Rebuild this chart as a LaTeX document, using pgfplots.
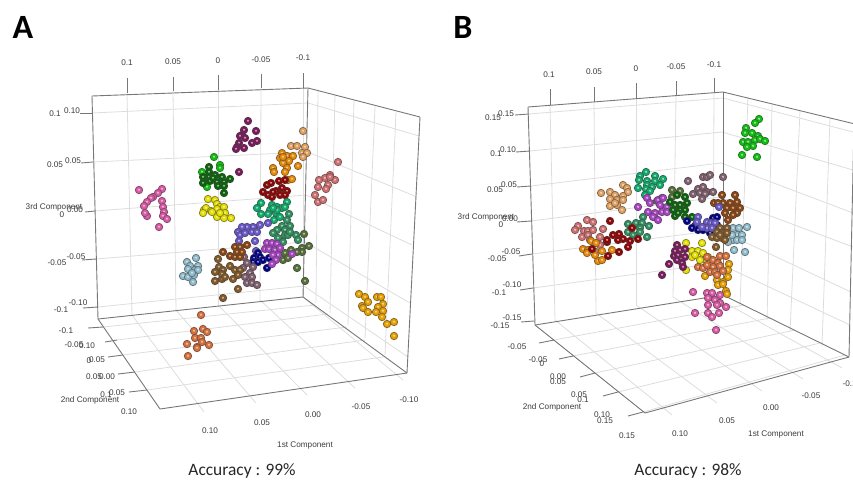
\documentclass[border=0pt]{standalone}
\usepackage{pgfplots}
\usepackage{fontspec}
\pgfplotsset{compat=1.18}
\setmainfont{Liberation Sans}
\newfontfamily\carl{Carlito}
\definecolor{cPink}{HTML}{DB5AA5}
\definecolor{cMag}{HTML}{7B1A5C}
\definecolor{cLime}{HTML}{10C010}
\definecolor{cDkG}{HTML}{0A640A}
\definecolor{cYel}{HTML}{E6E000}
\definecolor{cTan}{HTML}{E0A060}
\definecolor{cOr}{HTML}{E88A08}
\definecolor{cSal}{HTML}{D07070}
\definecolor{cRed}{HTML}{8F0505}
\definecolor{cTeal}{HTML}{10AC6C}
\definecolor{cSea}{HTML}{309060}
\definecolor{cOl}{HTML}{56703A}
\definecolor{cSla}{HTML}{6A58CC}
\definecolor{cPur}{HTML}{A843C4}
\definecolor{cNav}{HTML}{000088}
\definecolor{cSad}{HTML}{8B4513}
\definecolor{cBr}{HTML}{825A2A}
\definecolor{cMau}{HTML}{80606F}
\definecolor{cBlu}{HTML}{90BCCC}
\definecolor{cAmb}{HTML}{E8A000}
\definecolor{cCor}{HTML}{D8703C}
\definecolor{gl}{HTML}{DDDDDD}
\definecolor{ax}{HTML}{777777}
\definecolor{tx}{HTML}{3C3C3C}
\pgfdeclareplotmark{ball}{%
  \pgfpathcircle{\pgfpointorigin}{\pgfplotmarksize}\pgfusepathqfillstroke
  \pgfscope
  \pgfsetfillcolor{white}\pgfsetfillopacity{0.6}%
  \pgfpathcircle{\pgfpoint{0pt}{0.2pt}}{0.32\pgfplotmarksize}\pgfusepathqfill
  \endpgfscope
}
\newcommand\C[2]{\addplot[only marks,mark=ball,mark size=3.7pt,
  mark options={fill=#1,draw=#1!50!black!85,line width=0.8pt}] coordinates {#2};}
\newcommand\G[4]{\addplot[gl,line width=0.8pt] coordinates {(#1,#2)(#3,#4)};}
\newcommand\A[4]{\addplot[ax,line width=0.9pt] coordinates {(#1,#2)(#3,#4)};}
\newcommand\Lb[3]{\node[text=tx,font=\fontsize{8.2}{9}\selectfont,inner sep=0pt] at (axis cs:#1,#2) {#3};}
\begin{document}
\begin{tikzpicture}
\path[use as bounding box] (0,0) rectangle (853pt,480pt);
\clip (0,0) rectangle (853pt,480pt);
\begin{axis}[at={(0,0)},anchor=south west,scale only axis,width=853pt,height=480pt,
  xmin=0,xmax=853,ymin=0,ymax=480,y dir=reverse,hide axis,clip=false]
% ---------- panel A grid
\G{127}{93}{132}{315}\G{173}{91}{176}{310}\G{218}{90}{218}{305}\G{261}{88}{260}{300}\G{303}{88}{303}{297}
\G{92}{113}{308}{103}\G{93}{162}{308}{152}\G{95}{211}{306}{195}\G{96}{259}{305}{242}\G{98}{307}{304}{286}
\G{308}{103}{419}{136}\G{308}{152}{417}{197}\G{306}{195}{412}{245}\G{305}{242}{410}{303}\G{304}{286}{408}{357}
\G{318}{91}{316}{303}\G{335}{95}{330}{313}\G{354}{100}{348}{325}\G{375}{107}{365}{338}\G{396}{112}{385}{355}
\G{132}{315}{204}{412}\G{176}{310}{256}{403}\G{218}{305}{307}{395}\G{260}{300}{355}{388}\G{303}{297}{403}{380}
\G{103}{327}{315}{305}\G{117}{340}{328}{314}\G{123}{355}{347}{327}\G{135}{372}{365}{340}\G{147}{390}{383}{357}
% ---------- panel A frame
\A{92}{96}{308}{88}\A{308}{88}{420}{117}\A{92}{96}{98}{319}\A{308}{88}{303}{297}\A{420}{117}{407}{373}
\A{98}{319}{303}{297}\A{303}{297}{407}{373}\A{98}{319}{160}{409}\A{160}{409}{407}{373}
\A{127}{78}{127}{93}\A{173}{77}{173}{91}\A{218}{75}{218}{90}\A{261}{74}{261}{88}\A{303}{73}{303}{88}
\A{80}{113}{92}{113}\A{81}{163}{93}{162}\A{85}{212}{95}{211}\A{82}{260}{96}{259}\A{83}{308}{98}{307}
\A{88}{328}{103}{327}\A{105}{342}{117}{340}\A{108}{357}{123}{355}\A{118}{374}{135}{372}\A{129}{392}{147}{390}
% ---------- panel A points
\C{cPink}{(139,190)(162,189)(158,193)(153,197)(151,198)(147,202)(144,206)(162,201)(163,207)(164,212)(147,216)(145,213)(163,216)(167,219)(159,227)}
\C{cMag}{(248,121)(256,131)(244,130)(242,135)(240,136)(245,138)(239,143)(237,147)(244,148)(252,143)(257,141)(236,149)(239,172)}
\C{cLime}{(214,157)(220,165)(202,172)(207,187)(220,168)}
\C{cDkG}{(209,167)(209,172)(203,177)(209,177)(215,175)(222,177)(230,179)(203,183)(210,181)(217,182)(224,182)(218,186)(224,186)(224,193)(213,178)}
\C{cYel}{(208,199)(215,200)(204,210)(206,208)(217,204)(220,207)(224,207)(217,209)(225,213)(211,211)(203,213)(217,217)(224,218)(231,218)(212,212)(220,213)}
\C{cTan}{(303,131)(291,146)(297,146)(305,147)(302,153)(307,153)(303,157)}
\C{cOr}{(282,153)(287,156)(293,156)(280,158)(289,161)(283,163)(298,166)(287,168)(285,172)(273,168)(274,172)(283,157)(288,180)(292,179)}
\C{cSal}{(338,162)(330,175)(335,180)(325,178)(319,180)(328,185)(318,187)(326,189)(315,195)(318,202)(323,200)(330,177)}
\C{cRed}{(267,185)(271,183)(279,181)(285,180)(263,192)(268,195)(272,197)(276,191)(282,188)(287,191)(273,192)(280,195)(285,195)}
\C{cTeal}{(261,203)(257,208)(261,214)(272,205)(277,207)(282,208)(287,202)(270,210)(276,213)(285,207)(268,214)(274,220)(280,217)(277,210)(273,208)}
\C{cSea}{(289,214)(287,220)(290,226)(282,226)(277,230)(285,230)(273,233)(278,238)(285,235)(288,235)(296,235)(298,240)(283,242)(290,232)}
\C{cOl}{(304,234)(309,246)(302,248)(302,252)(297,252)(291,250)(285,253)(283,260)(288,258)(297,268)(305,281)}
\C{cSla}{(260,225)(253,227)(247,227)(242,227)(238,232)(240,235)(245,233)(252,232)(257,232)(268,223)(239,241)(255,241)(256,251)}
\C{cNav}{(258,253)(254,258)(260,257)(253,262)(258,262)(263,260)(269,258)(267,268)}
\C{cPur}{(267,243)(272,243)(277,244)(265,249)(269,249)(275,250)(280,248)(278,255)(273,255)(292,254)(276,260)(272,264)}
\C{cMau}{(244,257)(247,263)(253,267)(250,273)(245,277)(252,277)(247,283)(252,283)(257,285)(243,268)}
\C{cBr}{(218,259)(219,267)(215,272)(223,270)(230,266)(215,281)(222,279)(222,274)(225,277)(235,270)(240,270)(238,275)(233,279)(238,289)(223,298)}
\C{cSad}{(235,247)(240,247)(247,245)(230,256)(235,257)(240,257)(237,252)(242,252)(223,252)}
\C{cBlu}{(187,262)(190,266)(196,258)(198,266)(188,269)(195,270)(198,270)(183,276)(188,277)(193,282)(194,275)(192,273)}
\C{cAmb}{(359,294)(365,297)(368,302)(362,306)(363,308)(368,312)(377,297)(381,297)(383,304)(378,307)(383,311)(376,312)(382,317)(387,324)(394,322)(394,336)}
\C{cCor}{(201,315)(194,331)(203,329)(207,332)(195,338)(201,338)(202,342)(187,344)(209,345)(197,347)(197,348)(188,356)}
% ---------- panel B grid
\G{550}{105}{555}{320}\G{594}{102}{596}{313}\G{636}{98}{636}{305}\G{676}{96}{673}{297}\G{714}{93}{713}{296}
\G{529}{114}{723}{98}\G{530}{151}{722}{132}\G{531}{186}{721}{163}\G{531}{221}{720}{197}\G{532}{254}{719}{230}\G{533}{288}{718}{263}
\G{723}{98}{853}{132}\G{722}{132}{853}{170}\G{721}{163}{853}{213}\G{720}{197}{853}{247}\G{719}{230}{851}{292}\G{718}{263}{850}{325}
\G{748}{97}{740}{305}\G{772}{105}{767}{320}\G{800}{111}{790}{332}\G{830}{118}{822}{346}
\G{555}{320}{672}{415}\G{596}{313}{717}{403}\G{636}{305}{762}{391}\G{673}{297}{803}{379}\G{713}{296}{842}{368}
\G{554}{340}{744}{305}\G{573}{356}{770}{318}\G{595}{373}{795}{330}\G{618}{392}{820}{343}\G{643}{412}{845}{355}
% ---------- panel B frame
\A{528}{107}{723}{92}\A{723}{92}{855}{124}\A{528}{107}{535}{325}\A{723}{92}{723}{295}\A{854}{123}{849}{357}
\A{535}{325}{723}{295}\A{723}{295}{849}{357}\A{535}{325}{645}{413}\A{645}{413}{849}{357}
\A{550}{89}{550}{105}\A{594}{87}{594}{102}\A{636}{83}{636}{98}\A{676}{81}{676}{96}\A{714}{78}{714}{93}
\A{515}{115}{529}{114}\A{516}{152}{530}{151}\A{517}{187}{531}{186}\A{517}{222}{531}{221}\A{519}{256}{532}{254}\A{520}{290}{533}{288}\A{521}{322}{534}{321}
\A{539}{343}{554}{340}\A{559}{359}{573}{356}\A{580}{377}{595}{373}\A{603}{396}{618}{392}\A{628}{416}{643}{412}
% ---------- panel B points
\C{cLime}{(759,119)(755,123)(746,128)(745,133)(752,133)(758,136)(743,142)(748,142)(755,140)(760,139)(765,141)(753,146)(747,147)(742,155)(757,157)}
\C{cTeal}{(646,172)(640,176)(655,176)(639,180)(647,181)(655,181)(663,179)(647,185)(652,187)(638,188)(646,189)(650,191)(660,185)(645,195)}
\C{cTan}{(623,185)(627,188)(628,192)(601,193)(610,192)(615,195)(623,196)(610,199)(617,200)(623,200)(610,206)(617,205)(615,203)(622,210)}
\C{cMau}{(688,181)(703,177)(707,177)(710,175)(723,177)(698,189)(703,187)(707,192)(693,194)(700,193)(705,194)(702,199)(713,192)}
\C{cOl}{(672,190)(680,191)(662,198)(657,201)(672,197)}
\C{cPur}{(638,207)(647,198)(650,203)(658,200)(663,198)(660,205)(667,207)(648,212)(655,213)(662,212)(653,217)(658,220)(667,212)}
\C{cDkG}{(677,195)(685,197)(670,202)(675,205)(680,205)(687,203)(673,210)(680,210)(685,210)(692,217)(675,216)(685,217)(678,213)}
\C{cSad}{(722,195)(735,195)(714,203)(723,203)(730,203)(737,202)(718,203)(727,208)(733,208)(740,208)(725,213)(737,213)(733,215)(728,220)}
\C{cNav}{(687,221)(695,226)(692,228)(698,230)(707,223)(713,218)(717,217)(703,230)(710,233)(715,232)(717,225)}
\C{cSla}{(698,217)(697,222)(707,222)(711,223)(715,223)(707,228)(712,228)(702,227)(719,207)}
\C{cBlu}{(733,228)(739,228)(747,227)(737,235)(742,235)(733,240)(728,242)(737,240)(742,240)(734,250)(745,252)(732,235)}
\C{cBr}{(720,228)(727,228)(717,232)(722,233)(727,233)(712,237)(717,238)(722,238)(725,240)(716,247)(720,235)}
\C{cSea}{(628,224)(643,217)(636,223)(642,223)(649,226)(640,228)(628,232)(640,232)(633,235)(647,237)}
\C{cSal}{(587,220)(593,222)(578,226)(575,230)(584,231)(588,231)(593,230)(603,229)(582,237)(588,235)(600,237)(600,245)(596,252)(590,240)}
\C{cOr}{(591,241)(596,243)(583,249)(588,250)(587,253)(602,251)(612,250)(598,261)(602,260)(595,255)}
\C{cRed}{(610,221)(632,228)(613,235)(619,234)(623,239)(618,240)(630,241)(638,239)(607,242)(628,247)(608,256)(619,252)(592,249)(607,240)}
\C{cYel}{(686,243)(702,243)(692,251)(698,251)(703,253)(692,257)(700,260)(707,262)(708,257)(686,270)(695,255)}
\C{cMag}{(677,245)(675,251)(680,250)(685,249)(674,256)(678,255)(685,257)(677,260)(682,263)(683,267)(669,264)(662,275)}
\C{cAmb}{(729,264)(728,270)(728,277)(705,276)(717,280)(723,282)(718,285)(723,284)(726,291)(727,294)}
\C{cCor}{(720,256)(726,256)(713,260)(718,263)(707,257)(698,267)(703,268)(713,267)(720,266)(710,272)(715,272)(723,271)(717,275)(707,265)}
\C{cPink}{(693,292)(707,293)(712,293)(720,295)(708,298)(715,300)(720,303)(708,305)(726,307)(717,305)(695,313)(708,313)(712,317)(719,313)(716,330)}
% ---------- panel A text
\node[font=\carl\bfseries\fontsize{34}{36}\selectfont] at (axis cs:23,27) {A};
\node[font=\carl\bfseries\fontsize{34}{36}\selectfont] at (axis cs:463,27) {B};
\Lb{127}{63}{0.1}\Lb{173}{62}{0.05}\Lb{218}{61}{0}\Lb{261}{60}{-0.05}\Lb{303}{58}{-0.1}
\Lb{55}{114}{0.1}\Lb{72}{111}{0.10}\Lb{55}{165}{0.05}\Lb{73}{161}{0.05}\Lb{54}{207}{3rd Component}\Lb{75}{210}{0.00}\Lb{62}{215}{0}
\Lb{57}{263}{-0.05}\Lb{76}{257}{-0.05}\Lb{61}{310}{-0.1}\Lb{78}{303}{-0.10}
\Lb{66}{331}{-0.1}\Lb{74}{345}{-0.05}\Lb{87}{346}{0.10}\Lb{89}{361}{0}\Lb{97}{360}{0.05}\Lb{94}{377}{0.05}\Lb{107}{377}{0.00}
\Lb{106}{395}{0.1}\Lb{117}{393}{0.05}\Lb{90}{400}{2nd Component}\Lb{129}{412}{0.10}
\Lb{210}{431}{0.10}\Lb{262}{423}{0.05}\Lb{313}{415}{0.00}\Lb{361}{407}{-0.05}\Lb{409}{400}{-0.10}\Lb{305}{445}{1st Component}
\node[font=\carl\fontsize{17.4}{19}\selectfont,text=black!85] at (axis cs:242,471) {Accuracy : 99\%};
% ---------- panel B text
\Lb{549}{75}{0.1}\Lb{594}{72}{0.05}\Lb{636}{69}{0}\Lb{676}{67}{-0.05}\Lb{714}{65}{-0.1}
\Lb{493}{118}{0.15}\Lb{506}{114}{0.15}\Lb{496}{154}{0.1}\Lb{508}{150}{0.10}\Lb{495}{190}{0.05}\Lb{509}{185}{0.05}
\Lb{486}{217}{3rd Component}\Lb{510}{219}{0.00}\Lb{501}{225}{0}
\Lb{511}{252}{-0.05}\Lb{497}{259}{-0.05}\Lb{512}{285}{-0.10}\Lb{499}{293}{-0.1}\Lb{512}{318}{-0.15}\Lb{500}{326}{-0.15}
\Lb{517}{347}{-0.05}\Lb{538}{360}{-0.05}\Lb{542}{364}{0}\Lb{558}{377}{0.00}\Lb{558}{382}{0.05}\Lb{579}{395}{0.05}\Lb{583}{400}{0.1}
\Lb{552}{407}{2nd Component}\Lb{602}{415}{0.10}\Lb{605}{421}{0.15}\Lb{627}{436}{0.15}
\Lb{680}{434}{0.10}\Lb{727}{421}{0.05}\Lb{771}{408}{0.00}\Lb{811}{396}{-0.05}\Lb{852}{384}{-0.10}\Lb{776}{434}{1st Component}
\node[font=\carl\fontsize{17.4}{19}\selectfont,text=black!85] at (axis cs:688,471) {Accuracy : 98\%};
\end{axis}
\end{tikzpicture}
\end{document}
